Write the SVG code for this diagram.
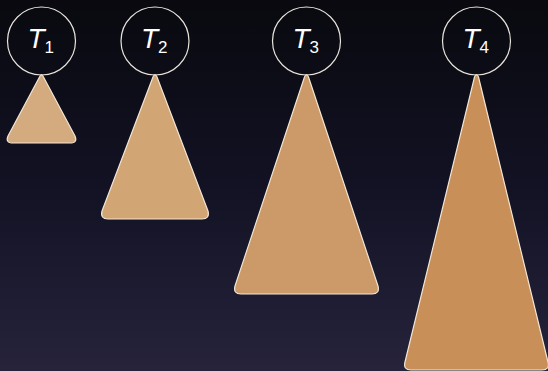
<svg xmlns="http://www.w3.org/2000/svg" width="548" height="371" viewBox="0 0 548 371">
<defs>
<linearGradient id="bg" x1="0" y1="0" x2="0" y2="1">
<stop offset="0" stop-color="#09090f"/>
<stop offset="0.5" stop-color="#121224"/>
<stop offset="1" stop-color="#26233b"/>
</linearGradient>
<style>
.c{fill:none;stroke:#e8e4dc;stroke-width:1.2}
.t{stroke:#f3e6d4;stroke-width:1.2;stroke-linejoin:round}
.l{font-family:"Liberation Sans",Arial,sans-serif;fill:#ffffff}
.m{font-style:italic;font-size:28px}
.s{font-size:17px}
</style>
</defs>
<rect width="548" height="371" fill="url(#bg)"/>
<g id="n1">
<path class="t" fill="#d4aa7f" d="M39.5,77 Q41.5,72 43.5,77 L75,136 Q78,143 70,143 L13,143 Q5,143 8,136 Z"/>
<circle class="c" cx="41.5" cy="41" r="34"/>
<text class="l" x="27.5" y="48"><tspan class="m">T</tspan><tspan class="s" dy="5">1</tspan></text>
</g>
<g id="n2">
<path class="t" fill="#d2a574" d="M153,77 Q155,72 157,77 L208,211 Q210,219 202,219 L108,219 Q100,219 102,211 Z"/>
<circle class="c" cx="155" cy="41" r="34"/>
<text class="l" x="141" y="48"><tspan class="m">T</tspan><tspan class="s" dy="5">2</tspan></text>
</g>
<g id="n3">
<path class="t" fill="#cc9a69" d="M304.5,77 Q306.5,72 308.5,77 L378,286 Q380,294 372,294 L241,294 Q233,294 235,286 Z"/>
<circle class="c" cx="306.5" cy="41" r="34"/>
<text class="l" x="292.5" y="48"><tspan class="m">T</tspan><tspan class="s" dy="5">3</tspan></text>
</g>
<g id="n4">
<path class="t" fill="#c98f58" d="M474.5,77 Q476.5,72 478.5,77 L548,362 Q550,370 542,370 L411,370 Q403,370 405,362 Z"/>
<circle class="c" cx="476.5" cy="41" r="34"/>
<text class="l" x="462.5" y="48"><tspan class="m">T</tspan><tspan class="s" dy="5">4</tspan></text>
</g>
<g id="connectors"/>
</svg>
